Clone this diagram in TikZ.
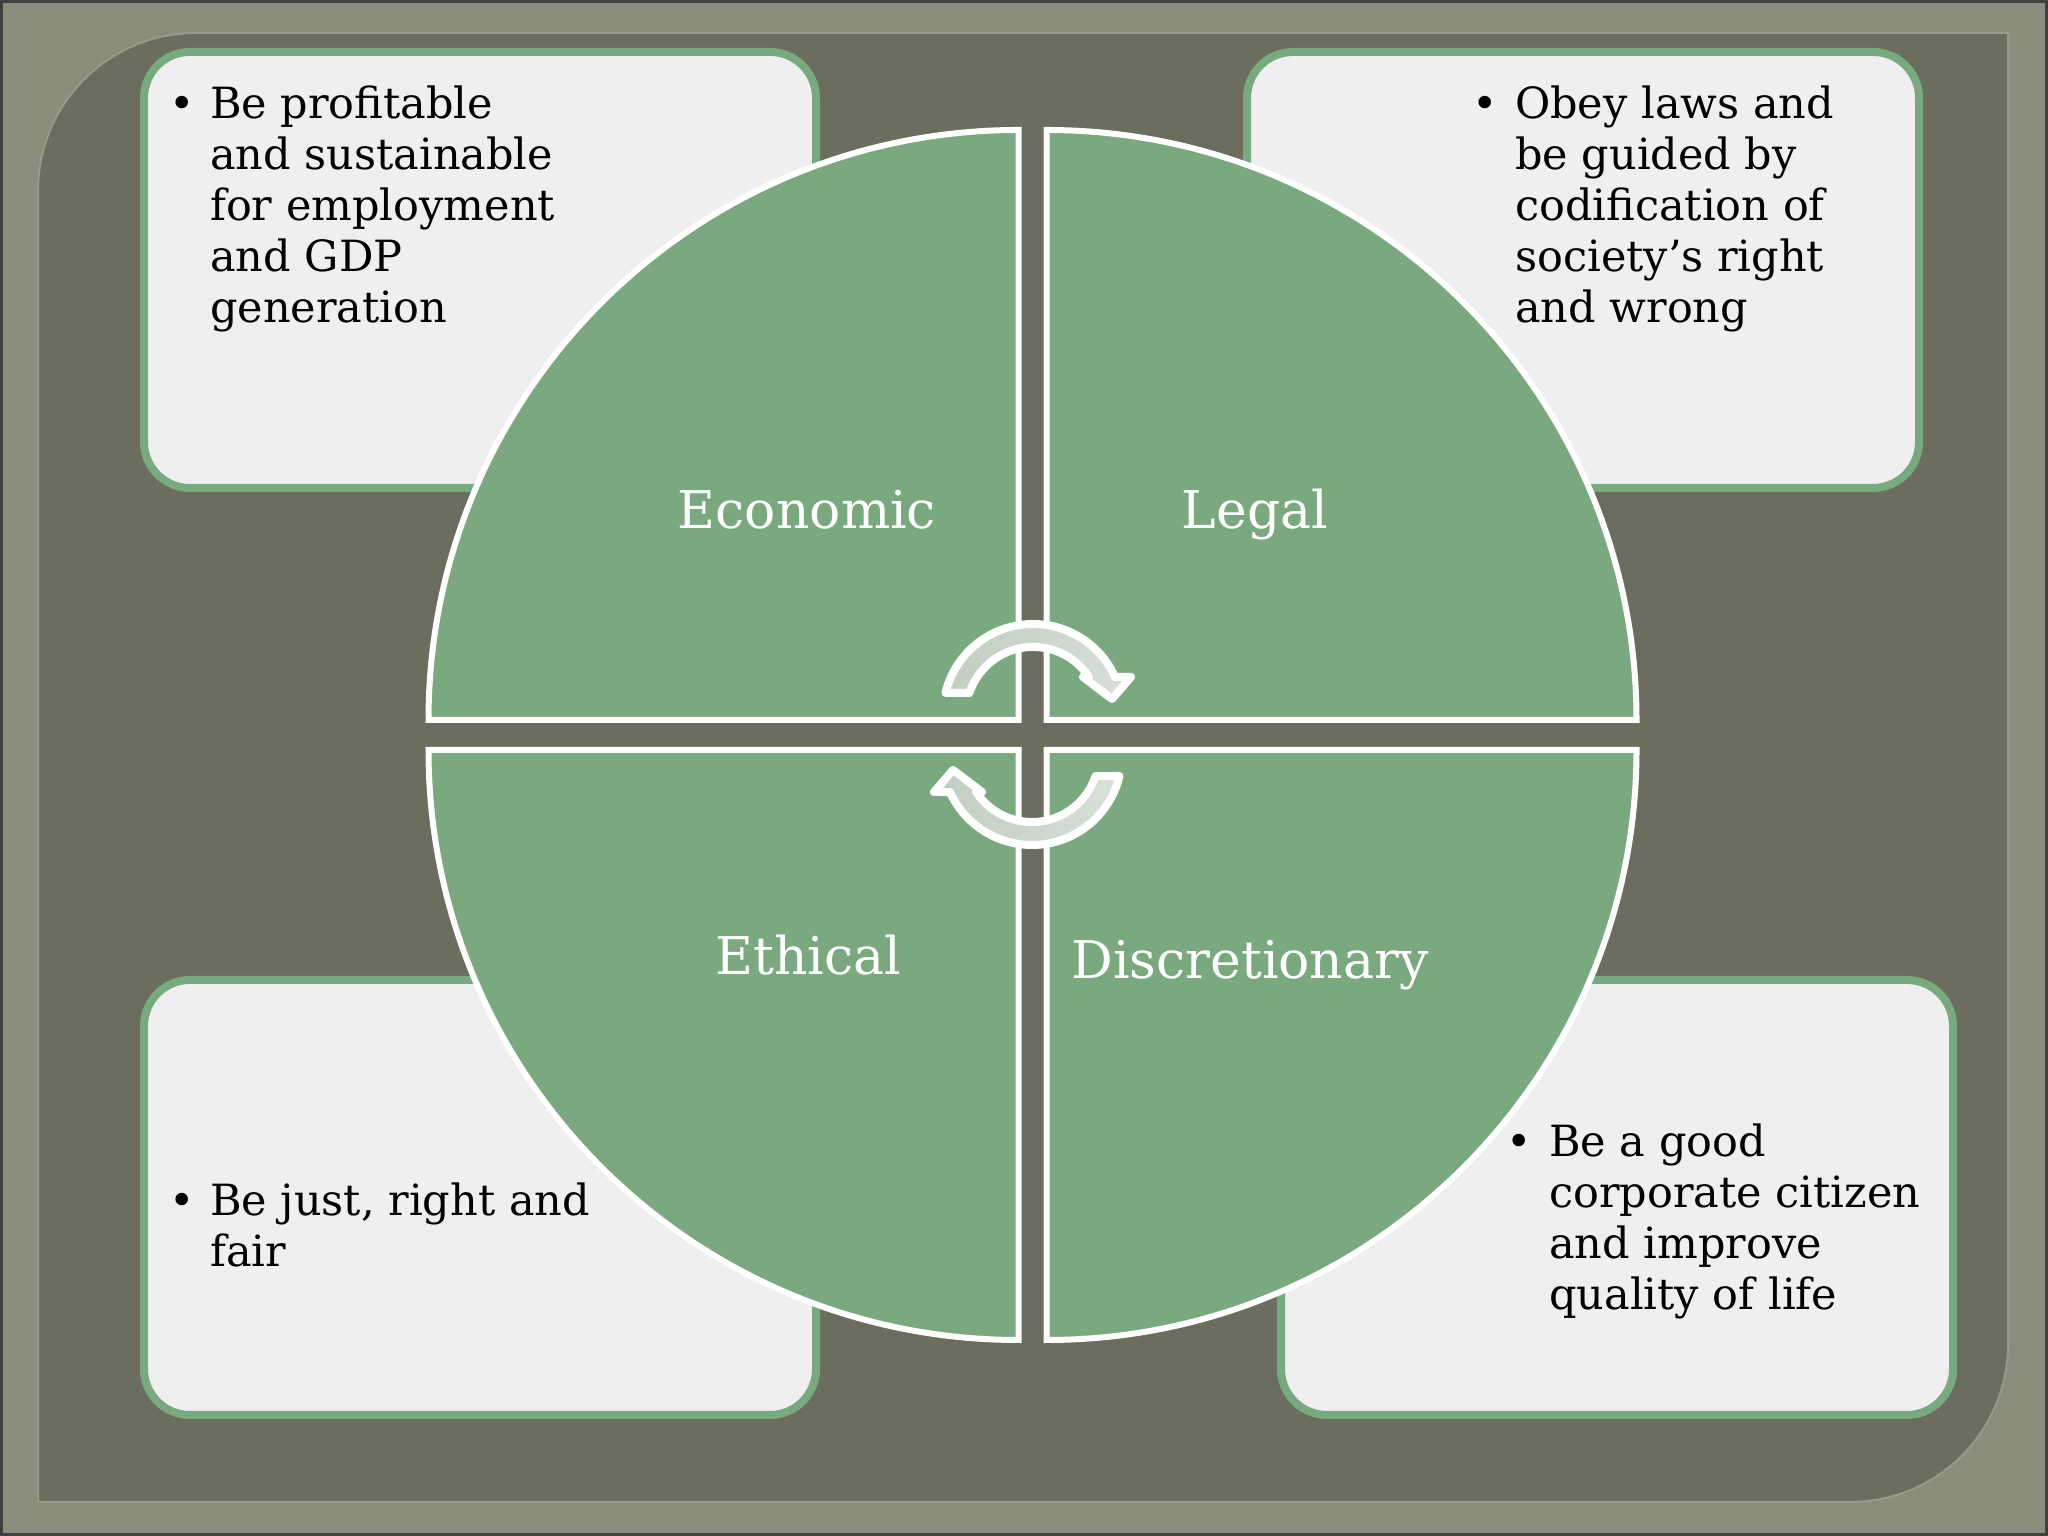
\documentclass[tikz,border=0pt]{standalone}
\usepackage{fontspec}
\setmainfont{DejaVu Serif}
\definecolor{outerbg}{HTML}{8A8D7C}
\definecolor{panel}{HTML}{6B6D5E}
\definecolor{bevel}{HTML}{979A87}
\definecolor{boxgreen}{HTML}{78AA7F}
\definecolor{boxfill}{HTML}{EFEEF0}
\definecolor{quadgreen}{HTML}{7AA980}
\definecolor{arrowA}{HTML}{C0CEC0}
\definecolor{arrowB}{HTML}{D8E0D8}
\begin{document}
\begin{tikzpicture}[x=1pt,y=1pt,
  boxstyle/.style={draw=boxgreen, line width=8pt, fill=boxfill, rounded corners=46pt},
  quad/.style={fill=quadgreen, draw=white, line width=6pt, line join=miter},
  bodytext/.style={font=\fontsize{43}{51}\selectfont, text=black, align=left, inner sep=0pt, anchor=north west},
  bullettext/.style={font=\fontsize{43}{51}\selectfont, text=black, inner sep=0pt, anchor=base},
  quadlabel/.style={font=\fontsize{52}{60}\selectfont, text=white, inner sep=0pt, anchor=base},
  arrowshape/.style={draw=white, line width=8pt, line join=round, left color=arrowA, right color=arrowB}]
\useasboundingbox (0,0) rectangle (2048,1536);
% background
\fill[outerbg] (0,0) rectangle (2048,1536);
\draw[black!75, line width=3pt] (1.5,1.5) rectangle (2046.5,1534.5);
\path[fill=panel, draw=bevel, line width=2pt]
  (38,34) -- (1850,34) arc[start angle=-90, end angle=0, radius=158]
  -- (2008,1503) -- (196,1503) arc[start angle=90, end angle=180, radius=158] -- cycle;
% text boxes
\draw[boxstyle] (144,1048) rectangle (816,1484);
\draw[boxstyle] (1247,1048) rectangle (1919,1484);
\draw[boxstyle] (144,121) rectangle (816,556);
\draw[boxstyle] (1281,121) rectangle (1953,556);
% quadrants
\draw[quad] (1018.5,816) -- (428.5,816) arc[start angle=180, end angle=90, radius=590] -- cycle;
\draw[quad] (1046.5,816) -- (1046.5,1406) arc[start angle=90, end angle=0, radius=590] -- cycle;
\draw[quad] (1018.5,786) -- (1018.5,196) arc[start angle=270, end angle=180, radius=590] -- cycle;
\draw[quad] (1046.5,786) -- (1636.5,786) arc[start angle=0, end angle=-90, radius=590] -- cycle;
% labels
\node[quadlabel] (econ) at (807,1007) {Economic};
\node[quadlabel] (legal) at (1255,1007) {Legal};
\node[quadlabel] (ethic) at (808,561) {Ethical};
\node[quadlabel] (discr) at (1250,557) {Discretionary};
% cycle arrows
\path[arrowshape] (945.5,843) arc[start angle=166.5, end angle=24.3, radius=90]
  -- (1131,859) -- (1112,837) -- (1083,859) -- (1088.9,859)
  arc[start angle=33.5, end angle=161.7, radius=67] -- cycle;
\begin{scope}[rotate around={180:(1032.5,801.5)}]
\path[arrowshape] (945.5,843) arc[start angle=166.5, end angle=24.3, radius=90]
  -- (1131,859) -- (1112,837) -- (1083,859) -- (1088.9,859)
  arc[start angle=33.5, end angle=161.7, radius=67] -- cycle;
\end{scope}
% bullet texts
\node[bullettext] (b1) at (182,1417) {•};
\node[bodytext] (t1) at (210,1450) {Be profitable\\and sustainable\\for employment\\and GDP\\generation};
\node[bullettext] (b2) at (1485,1417) {•};
\node[bodytext] (t2) at (1515,1450) {Obey laws and\\be guided by\\codification of\\society’s right\\and wrong};
\node[bullettext] (b3) at (182,320) {•};
\node[bodytext] (t3) at (210,353) {Be just, right and\\fair};
\node[bullettext] (b4) at (1519,379) {•};
\node[bodytext] (t4) at (1549,412) {Be a good\\corporate citizen\\and improve\\quality of life};
\end{tikzpicture}
\end{document}
